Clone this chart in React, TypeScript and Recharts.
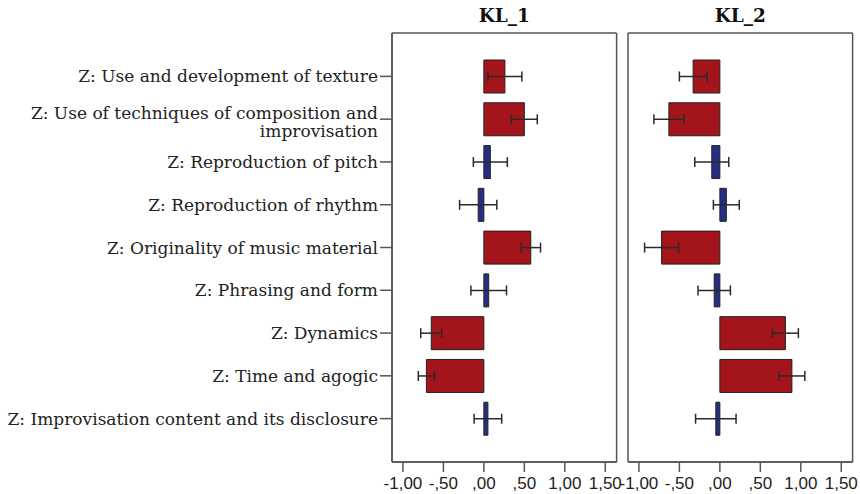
import {
	BarChart,
	Bar,
	XAxis,
	YAxis,
	Cell,
	ErrorBar,
	ReferenceArea,
	CartesianGrid,
} from "recharts";

const categories = [
	"Z: Use and development of texture",
	"Z: Use of techniques of composition and improvisation",
	"Z: Reproduction of pitch",
	"Z: Reproduction of rhythm",
	"Z: Originality of music material",
	"Z: Phrasing and form",
	"Z: Dynamics",
	"Z: Time and agogic",
	"Z: Improvisation content and its disclosure",
];

// mean z-score and error half-width per cluster
const kl1Mean = [0.26, 0.5, 0.08, -0.07, 0.58, 0.06, -0.65, -0.71, 0.05];
const kl1Err = [0.21, 0.16, 0.21, 0.23, 0.12, 0.22, 0.13, 0.1, 0.17];
const kl2Mean = [-0.33, -0.63, -0.1, 0.08, -0.72, -0.07, 0.81, 0.89, -0.05];
const kl2Err = [0.17, 0.185, 0.21, 0.16, 0.21, 0.2, 0.16, 0.16, 0.25];
const significant = [true, true, false, false, true, false, true, true, false];

const xTicks = [-1, -0.5, 0, 0.5, 1, 1.5];
const xTickLabels = ["-1,00", "-,50", ",00", ",50", "1,00", "1,50"];
const xDomain = [-1.135, 1.64];

const RED = "#a3151a";
const BLUE = "#252e85";
const LINE = "#555";

const build = (means: number[], errs: number[]) =>
	categories.map((name, i) => ({
		name,
		mean: means[i],
		err: errs[i],
		sig: significant[i],
	}));

const kl1 = build(kl1Mean, kl1Err);
const kl2 = build(kl2Mean, kl2Err);

function CategoryTick(props: any) {
	const { x, y, payload } = props;
	const text: string = payload.value;
	let lines = [text];
	if (text.length > 45) {
		const cut = text.lastIndexOf(" ", 45);
		lines = [text.slice(0, cut), text.slice(cut + 1)];
	}
	const lh = 18;
	const start = lines.length > 1 ? -6 : 0;
	return (
		<text
			x={x}
			y={y}
			textAnchor="end"
			fontFamily="DejaVu Serif"
			fontSize={17}
			fill="#222"
		>
			{lines.map((l, i) => (
				<tspan key={i} x={x} y={y + start + i * lh} dominantBaseline="central">
					{l}
				</tspan>
			))}
		</text>
	);
}

// frame lines at the edges of the plot area
const frameH = ({ offset }: any) => [offset.top, offset.top + offset.height];
const frameV = ({ offset }: any) => [offset.left, offset.left + offset.width];

interface PanelProps {
	title: string;
	data: ReturnType<typeof build>;
	width: number;
	left: number;
	margin: { top: number; right: number; left: number; bottom: number };
	showLabels: boolean;
}

function Panel({ title, data, width, left, margin, showLabels }: PanelProps) {
	return (
		<div style={{ position: "absolute", left, top: 0 }}>
			<BarChart
				width={width}
				height={494}
				data={data}
				layout="vertical"
				margin={margin}
			>
				<CartesianGrid
					stroke={LINE}
					strokeWidth={1.5}
					fill="none"
					horizontalCoordinatesGenerator={frameH}
					verticalCoordinatesGenerator={frameV}
				/>
				<XAxis
					type="number"
					domain={xDomain}
					allowDataOverflow
					ticks={xTicks}
					interval={0}
					tickFormatter={(v: number) => xTickLabels[xTicks.indexOf(v)]}
					height={32}
					tickSize={10}
					tickMargin={5}
					axisLine={{ stroke: LINE, strokeWidth: 1.5 }}
					tickLine={{ stroke: LINE, strokeWidth: 1.5 }}
					tick={{ fill: "#222", fontSize: 17, fontFamily: "Liberation Sans" }}
				/>
				<YAxis
					type="category"
					dataKey="name"
					width={showLabels ? 392 : 0}
					padding={{ top: 22, bottom: 22 }}
					interval={0}
					tickSize={12}
					tickMargin={2}
					axisLine={{ stroke: LINE, strokeWidth: 1.5 }}
					tickLine={showLabels ? { stroke: LINE, strokeWidth: 1.5 } : false}
					tick={showLabels ? <CategoryTick /> : false}
				/>
				<ReferenceArea
					x1={xDomain[0]}
					x2={xDomain[1]}
					fill="none"
					fillOpacity={0}
					stroke="none"
					ifOverflow="visible"
					label={{
						value: title,
						position: "top",
						offset: 33,
						fontFamily: "DejaVu Serif",
						fontWeight: "bold",
						fontSize: 18.5,
						fill: "#111",
					}}
				/>
				<Bar
					dataKey="mean"
					barSize={33}
					stroke="#222"
					strokeWidth={1}
					isAnimationActive={false}
				>
					{data.map((d) => (
						<Cell key={d.name} fill={d.sig ? RED : BLUE} />
					))}
					<ErrorBar
						dataKey="err"
						direction="x"
						width={5}
						stroke="#2a2a2a"
						strokeWidth={1.5}
					/>
				</Bar>
			</BarChart>
		</div>
	);
}

export default function App() {
	return (
		<div
			style={{
				position: "absolute",
				left: 0,
				top: 0,
				width: 860,
				height: 494,
				background: "#fff",
			}}
		>
			<Panel
				title="KL_1"
				data={kl1}
				width={645}
				left={0}
				margin={{ top: 33, right: 28.4, left: 0, bottom: 0 }}
				showLabels
			/>
			<Panel
				title="KL_2"
				data={kl2}
				width={240}
				left={620}
				margin={{ top: 33, right: 7.4, left: 8, bottom: 0 }}
				showLabels={false}
			/>
		</div>
	);
}
